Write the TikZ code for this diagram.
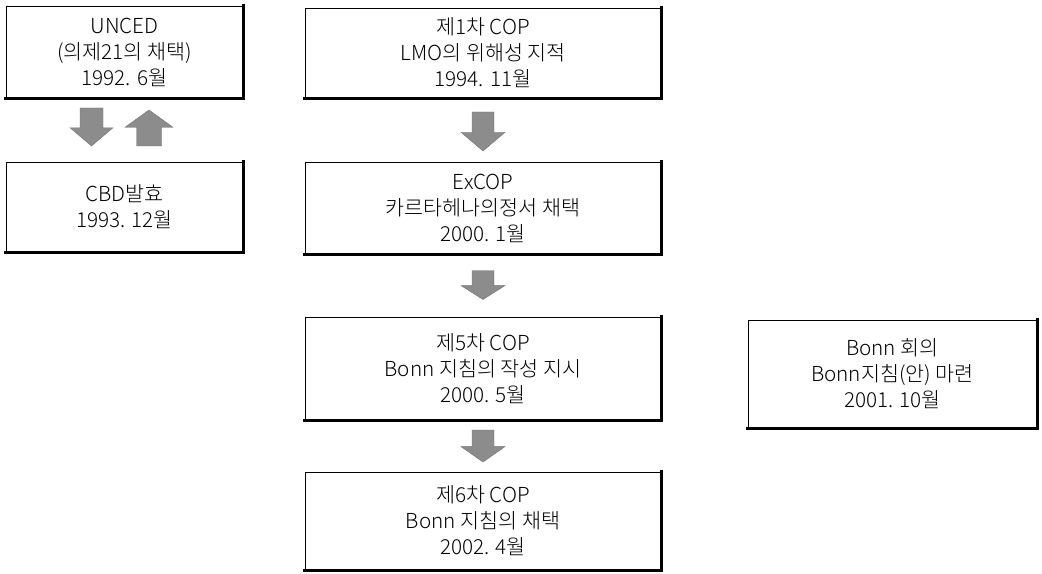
\documentclass[tikz,border=0pt]{standalone}
\usepackage{fontspec}
\setmainfont{Noto Sans CJK KR Light}
\usetikzlibrary{calc}
\tikzset{
  box/.style={draw=black, line width=0.6pt, fill=white, align=center, inner sep=0pt,
    font=\fontsize{15.5}{19.5}\selectfont},
  boxedge/.style={line width=1.8pt, line cap=rect},
  blockarrow/.style={fill=black!45, draw=black!55, line width=0.3pt}
}
% #1 coordinate name, #2 tail offset, #3 tip offset, #4 shaft half width, #5 head half width (pixels)
\newcommand\blkarr[5]{%
  \pgfmathsetmacro\hb{#2+0.52*(#3-#2)}%
  \filldraw[blockarrow]
    ($(#1)+(-#4,#2)$) -- ($(#1)+(#4,#2)$) -- ($(#1)+(#4,\hb)$) -- ($(#1)+(#5,\hb)$)
    -- ($(#1)+(0,#3)$) -- ($(#1)+(-#5,\hb)$) -- ($(#1)+(-#4,\hb)$) -- cycle;}
\begin{document}
\begin{tikzpicture}[x=0.75pt, y=-0.75pt]
\useasboundingbox (0,0) rectangle (1042,574);
\node[box, minimum width=237*0.75pt, minimum height=92*0.75pt] (b1) at (124.5,52) {UNCED\\(의제21의 채택)\\1992. 6월};
\node[box, minimum width=237*0.75pt, minimum height=90*0.75pt] (b2) at (124.5,207) {CBD발효\\1993. 12월};
\node[box, minimum width=356*0.75pt, minimum height=90*0.75pt] (b3) at (483,53) {제1차 COP\\LMO의 위해성 지적\\1994. 11월};
\node[box, minimum width=356*0.75pt, minimum height=92*0.75pt] (b4) at (483,208) {ExCOP\\카르타헤나의정서 채택\\2000. 1월};
\node[box, minimum width=356*0.75pt, minimum height=103*0.75pt] (b5) at (483,368.5) {제5차 COP\\Bonn 지침의 작성 지시\\2000. 5월};
\node[box, minimum width=356*0.75pt, minimum height=98*0.75pt] (b6) at (483,521) {제6차 COP\\Bonn 지침의 채택\\2002. 4월};
\node[box, minimum width=289*0.75pt, minimum height=108*0.75pt] (b7) at (892.5,374) {Bonn 회의\\Bonn지침(안) 마련\\2001. 10월};
\foreach \n in {b1,b2,b3,b4,b5,b6,b7}
  \draw[boxedge] (\n.north east) -- (\n.south east) -- (\n.south west);
% block arrows
\coordinate (m12) at ($(b1.south)!0.5!(b2.north)$);
\coordinate (a1) at ($(m12)+(-33,0)$);
\coordinate (a2) at ($(m12)+(24.5,0)$);
\coordinate (a3) at ($(b3.south)!0.5!(b4.north)$);
\coordinate (a4) at ($(b4.south)!0.5!(b5.north)$);
\coordinate (a5) at ($(b5.south)!0.5!(b6.north)$);
\blkarr{a1}{-22}{16}{11.5}{21.5}
\blkarr{a2}{16}{-20}{12.5}{24}
\blkarr{a3}{-18}{21}{11}{22}
\blkarr{a4}{-15}{14}{11}{22}
\blkarr{a5}{-16}{16}{11}{22}
\end{tikzpicture}
\end{document}
